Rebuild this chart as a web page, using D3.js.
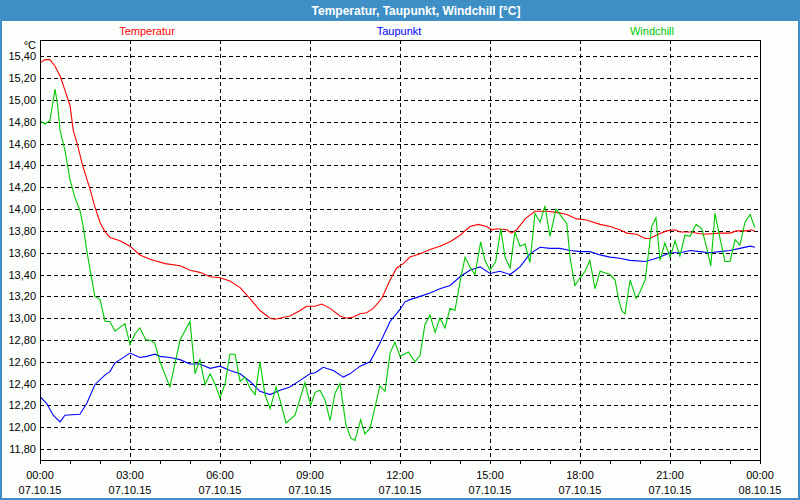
<!DOCTYPE html>
<html>
<head>
<meta charset="utf-8">
<script src="https://cdn.jsdelivr.net/npm/d3@7"></script>
<style>
  html, body { margin: 0; padding: 0; background: #fcfefc; }
  svg { display: block; }
  text { font-family: "Liberation Sans", Arial, sans-serif; }
</style>
</head>
<body>
<svg id="chart" width="800" height="500"></svg>
<script>
// ---- data ----
const chartTitle = "Temperatur, Taupunkt, Windchill [°C]";
const seriesNames = ["Temperatur", "Taupunkt", "Windchill"];
const seriesColors = ["#ff0000", "#0000ff", "#00c800"];
const yTickValues = [11.8, 12.0, 12.2, 12.4, 12.6, 12.8, 13.0, 13.2, 13.4, 13.6, 13.8, 14.0, 14.2, 14.4, 14.6, 14.8, 15.0, 15.2, 15.4];
const xTimeLabels = ["00:00", "03:00", "06:00", "09:00", "12:00", "15:00", "18:00", "21:00", "00:00"];
const xDateLabels = ["07.10.15", "07.10.15", "07.10.15", "07.10.15", "07.10.15", "07.10.15", "07.10.15", "07.10.15", "08.10.15"];

// [hour since 07.10.15 00:00, value °C]
const temperatur = [
  [0,15.34],[0.17,15.37],[0.33,15.37],[0.5,15.31],[0.67,15.22],[0.83,15.09],[1.0,14.95],[1.11,14.72],
  [1.24,14.60],[1.42,14.40],[1.67,14.18],[1.83,14.02],[2.0,13.88],[2.17,13.79],[2.33,13.74],[2.67,13.71],
  [3.0,13.66],[3.33,13.58],[3.67,13.54],[4.17,13.50],[4.67,13.48],[5.0,13.44],[5.33,13.42],[5.67,13.38],
  [6.0,13.37],[6.33,13.34],[6.67,13.28],[7.0,13.18],[7.33,13.07],[7.67,13.00],[7.83,12.99],[8.33,13.02],
  [8.67,13.07],[8.89,13.11],[9.17,13.11],[9.39,13.13],[9.67,13.09],[10.0,13.02],[10.22,13.00],[10.44,13.01],
  [10.67,13.04],[10.89,13.05],[11.11,13.09],[11.39,13.18],[11.67,13.35],[11.89,13.46],[12.11,13.50],[12.33,13.56],
  [12.67,13.59],[13.0,13.63],[13.33,13.66],[13.67,13.70],[14.0,13.76],[14.33,13.84],[14.61,13.86],[14.89,13.84],
  [15.06,13.81],[15.22,13.82],[15.56,13.81],[15.72,13.78],[15.89,13.81],[16.17,13.91],[16.5,13.98],[16.89,13.98],
  [17.22,13.97],[17.56,13.95],[17.89,13.91],[18.22,13.90],[18.67,13.86],[19.0,13.84],[19.33,13.81],[19.56,13.78],
  [19.89,13.77],[20.17,13.73],[20.33,13.73],[20.61,13.77],[20.89,13.80],[21.17,13.81],[21.33,13.79],[21.67,13.79],
  [22.11,13.77],[22.67,13.78],[23.0,13.78],[23.22,13.80],[23.56,13.80],[23.72,13.81],[23.83,13.80]
];
const taupunkt = [
  [0,12.28],[0.22,12.22],[0.44,12.11],[0.67,12.05],[0.83,12.11],[1.33,12.12],[1.56,12.22],[1.83,12.39],
  [2.17,12.48],[2.33,12.51],[2.5,12.59],[2.67,12.62],[3.0,12.68],[3.33,12.64],[3.56,12.65],[3.83,12.67],
  [4.0,12.65],[4.33,12.64],[4.67,12.62],[5.0,12.58],[5.33,12.58],[5.67,12.54],[6.0,12.56],[6.33,12.52],
  [6.67,12.49],[7.0,12.42],[7.33,12.33],[7.67,12.30],[8.0,12.34],[8.33,12.37],[8.67,12.43],[9.0,12.49],
  [9.17,12.50],[9.44,12.55],[9.78,12.52],[10.11,12.46],[10.33,12.49],[10.67,12.56],[11.0,12.60],[11.33,12.77],
  [11.67,12.97],[12.0,13.08],[12.17,13.15],[12.33,13.17],[12.67,13.20],[13.0,13.23],[13.33,13.27],[13.67,13.30],
  [14.0,13.38],[14.33,13.44],[14.67,13.47],[15.0,13.41],[15.33,13.43],[15.67,13.40],[16.0,13.47],[16.33,13.59],
  [16.67,13.65],[17.0,13.64],[17.33,13.64],[17.67,13.62],[18.0,13.61],[18.33,13.61],[18.67,13.58],[19.0,13.56],
  [19.33,13.55],[19.67,13.53],[20.17,13.52],[20.44,13.54],[20.67,13.56],[21.0,13.60],[21.33,13.60],[21.67,13.62],
  [22.0,13.61],[22.33,13.60],[22.67,13.61],[23.0,13.62],[23.33,13.64],[23.67,13.66],[23.83,13.65]
];
const windchill = [
  [0,14.81],[0.17,14.78],[0.33,14.81],[0.5,15.10],[0.58,14.97],[0.67,14.72],[0.83,14.54],[1.0,14.27],
  [1.17,14.10],[1.33,13.99],[1.44,13.84],[1.56,13.62],[1.67,13.44],[1.83,13.20],[2.0,13.17],[2.17,12.97],
  [2.33,12.97],[2.5,12.88],[2.83,12.95],[3.0,12.76],[3.17,12.86],[3.33,12.91],[3.53,12.80],[3.67,12.80],
  [3.83,12.77],[4.0,12.60],[4.33,12.37],[4.67,12.80],[5.0,12.97],[5.17,12.49],[5.33,12.62],[5.5,12.39],
  [5.67,12.49],[5.83,12.40],[6.0,12.27],[6.17,12.40],[6.33,12.67],[6.5,12.67],[6.67,12.42],[6.83,12.46],
  [7.0,12.36],[7.17,12.30],[7.33,12.60],[7.5,12.30],[7.67,12.17],[7.87,12.37],[8.0,12.25],[8.2,12.04],
  [8.5,12.11],[8.83,12.41],[9.02,12.20],[9.17,12.32],[9.33,12.34],[9.5,12.25],[9.67,12.06],[9.83,12.31],
  [10.0,12.40],[10.2,12.02],[10.36,11.90],[10.5,11.88],[10.69,12.07],[10.83,11.94],[11.0,11.99],[11.17,12.19],
  [11.33,12.38],[11.5,12.33],[11.67,12.68],[11.83,12.78],[12.0,12.65],[12.28,12.69],[12.5,12.60],[12.67,12.66],
  [12.83,12.94],[13.0,13.03],[13.17,12.87],[13.33,13.00],[13.5,12.91],[13.67,13.09],[13.83,13.07],[14.0,13.33],
  [14.17,13.56],[14.33,13.47],[14.5,13.40],[14.69,13.70],[14.83,13.53],[15.0,13.44],[15.19,13.52],[15.36,13.82],
  [15.5,13.56],[15.67,13.46],[15.83,13.79],[16.0,13.66],[16.17,13.68],[16.33,13.51],[16.5,13.96],[16.67,13.88],
  [16.83,14.03],[17.0,13.75],[17.2,14.00],[17.44,13.91],[17.56,13.87],[17.67,13.55],[17.83,13.30],[18.0,13.37],
  [18.17,13.43],[18.33,13.53],[18.5,13.27],[18.67,13.43],[19.0,13.40],[19.17,13.35],[19.28,13.18],[19.39,13.07],
  [19.5,13.04],[19.67,13.35],[19.87,13.18],[20.0,13.24],[20.17,13.35],[20.28,13.59],[20.39,13.84],[20.53,13.92],
  [20.67,13.53],[20.83,13.69],[21.0,13.56],[21.17,13.71],[21.33,13.57],[21.5,13.76],[21.67,13.75],[21.87,13.86],
  [22.06,13.82],[22.2,13.67],[22.36,13.48],[22.5,13.96],[22.67,13.73],[22.83,13.52],[23.0,13.52],[23.17,13.72],
  [23.33,13.67],[23.5,13.88],[23.67,13.95],[23.83,13.83]
];
const allSeries = [temperatur, taupunkt, windchill];

// ---- layout ----
const W = 800, H = 500;
const plot = { left: 40, top: 40, right: 760, bottom: 460 };
const svg = d3.select("#chart");

const x = d3.scaleLinear().domain([0, 24]).range([plot.left, plot.right]);
const y = d3.scaleLinear().domain([11.70, 15.55]).range([plot.bottom, plot.top]);

// background
svg.append("rect").attr("x", 0).attr("y", 0).attr("width", W).attr("height", H).attr("fill", "#fcfefc");
// title bar
svg.append("rect").attr("x", 0).attr("y", 0).attr("width", W).attr("height", 21).attr("fill", "#3d8fc5");
svg.append("text").attr("x", 416).attr("y", 15).attr("text-anchor", "middle")
  .attr("fill", "#ffffff").attr("font-weight", "bold").attr("font-size", 12).text(chartTitle);
// window border
svg.append("rect").attr("x", 1).attr("y", 1).attr("width", W - 2).attr("height", H - 2)
  .attr("fill", "none").attr("stroke", "#3d8fc5").attr("stroke-width", 2);

// legend
const legendX = [147, 399, 652];
seriesNames.forEach((n, i) => {
  svg.append("text").attr("x", legendX[i]).attr("y", 35).attr("text-anchor", "middle")
    .attr("font-size", 11).attr("fill", seriesColors[i]).text(n);
});

// grid
const gridG = svg.append("g").attr("shape-rendering", "crispEdges");
gridG.selectAll("line.h").data(yTickValues).enter().append("line")
  .attr("x1", plot.left).attr("x2", plot.right)
  .attr("y1", d => Math.round(y(d)) + 0.5).attr("y2", d => Math.round(y(d)) + 0.5)
  .attr("stroke", "#000").attr("stroke-dasharray", "4,3");
gridG.selectAll("line.v").data(d3.range(3, 24, 3)).enter().append("line")
  .attr("y1", plot.top).attr("y2", plot.bottom)
  .attr("x1", d => Math.round(x(d)) + 0.5).attr("x2", d => Math.round(x(d)) + 0.5)
  .attr("stroke", "#000").attr("stroke-dasharray", "4,3");

// lines
svg.append("clipPath").attr("id", "clip").append("rect")
  .attr("x", plot.left).attr("y", plot.top).attr("width", plot.right - plot.left).attr("height", plot.bottom - plot.top);
const line = d3.line().x(d => x(d[0])).y(d => y(d[1]));
allSeries.forEach((s, i) => {
  svg.append("path").datum(s).attr("clip-path", "url(#clip)")
    .attr("d", line).attr("fill", "none").attr("stroke", seriesColors[i]).attr("stroke-width", 1.1);
});

// frame
svg.append("rect").attr("x", plot.left + 0.5).attr("y", plot.top + 0.5)
  .attr("width", plot.right - plot.left).attr("height", plot.bottom - plot.top)
  .attr("fill", "none").attr("stroke", "#000").attr("shape-rendering", "crispEdges");

// y axis
const fmt = d => d3.format(".2f")(d).replace(".", ",");
const yAxis = d3.axisLeft(y).tickValues(yTickValues).tickSize(0).tickPadding(4).tickFormat(fmt);
const yg = svg.append("g").attr("transform", `translate(${plot.left},0)`).call(yAxis);
yg.select(".domain").remove();
yg.selectAll("text").attr("font-size", 11).attr("fill", "#000").attr("font-family", "Liberation Sans, Arial, sans-serif");
svg.append("text").attr("x", 36).attr("y", 49).attr("text-anchor", "end").attr("font-size", 11).text("°C");

// x axis
const xAxis = d3.axisBottom(x).tickValues(d3.range(0, 25, 1)).tickSize(3).tickFormat("");
const xg = svg.append("g").attr("transform", `translate(0,${plot.bottom + 0.5})`).call(xAxis);
xg.select(".domain").remove();
xg.selectAll("line").attr("shape-rendering", "crispEdges");
const lab = svg.append("g");
d3.range(0, 25, 3).forEach((h, i) => {
  const t = lab.append("text").attr("x", x(h)).attr("text-anchor", "middle").attr("font-size", 11);
  t.append("tspan").attr("x", x(h)).attr("y", 479).text(xTimeLabels[i]);
  t.append("tspan").attr("x", x(h)).attr("y", 494).text(xDateLabels[i]);
});
</script>
</body>
</html>
